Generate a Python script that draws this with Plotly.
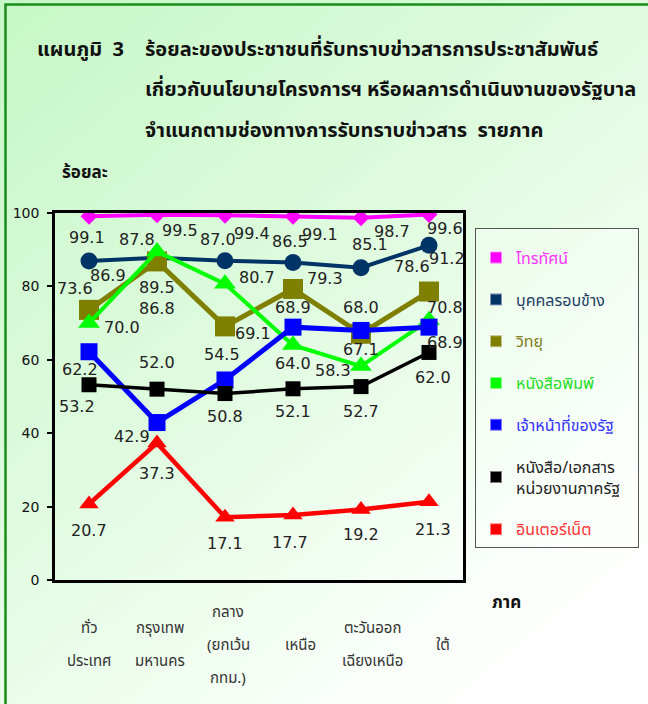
import base64
import plotly.graph_objects as go

# ---------------- data ----------------
regions = [["ทั่ว", "ประเทศ"], ["กรุงเทพ", "มหานคร"], ["กลาง", "(ยกเว้น", "กทม.)"],
           ["เหนือ"], ["ตะวันออก", "เฉียงเหนือ"], ["ใต้"]]
series_names = ["โทรทัศน์", "บุคคลรอบข้าง", "วิทยุ", "หนังสือพิมพ์", "เจ้าหน้าที่ของรัฐ",
                "หนังสือ/เอกสาร<br>หน่วยงานภาครัฐ", "อินเตอร์เน็ต"]
tv = [99.1, 99.5, 99.4, 99.1, 98.7, 99.6]
people = [86.9, 87.8, 87.0, 86.5, 85.1, 91.2]
radio = [73.6, 86.8, 69.1, 79.3, 67.1, 78.6]
newspaper = [70.0, 89.5, 80.7, 64.0, 58.3, 70.8]
officials = [62.2, 42.9, 54.5, 68.9, 68.0, 68.9]
documents = [53.2, 52.0, 50.8, 52.1, 52.7, 62.0]
internet = [20.7, 37.3, 17.1, 17.7, 19.2, 21.3]
y_ticks = [0, 20, 40, 60, 80, 100]

# ---------------- style ----------------
colors = ["#FF00FF", "#003366", "#808000", "#00FF00", "#0000FF", "#000000", "#FF0000"]
text_colors = ["#FF33FF", "#1F3F66", "#808020", "#22DD22", "#3333FF", "#222222", "#FF3333"]
symbols = ["diamond", "circle", "square", "triangle-up", "square", "square", "triangle-up"]
msizes = [13, 17, 20, 19, 17, 15, 17]
lwidths = [4, 4, 5, 4, 5, 3.5, 4.5]
# label offsets in pixels (dx right, dy down)
label_offsets = [
    [(-2, 21), (23, 16), (27, 18), (27, 18), (31, 14), (16, 14)],
    [(19, 14), (-20, -18), (-7, -21), (-3, -21), (9, -23), (18, 13)],
    [(-14, -21), (0, 47), (28, 7), (32, -10), (0, 16), (-17, -25)],
    [(33, 4), (0, 36), (32, -6), (0, 18), (-28, 4), (16, -13)],
    [(-9, 18), (-25, 14), (-3, -25), (0, -20), (0, -23), (16, 15)],
    [(-12, 22), (0, -27), (0, 23), (0, 23), (0, 25), (4, 25)],
    [(0, 26), (0, 30), (0, 26), (-3, 27), (0, 25), (4, 28)],
]
xlabel_shift = [0, 3, 3, 7, 11, 14]

W, H = 648, 704
L, R, T, B = 55, 185, 213, 124
PW, PH = W - L - R, H - T - B


def px(x):
    return (x - L) / PW


def py(y):
    return 1 - (y - T) / PH


THAI = "Tahoma, 'Noto Sans Thai', 'Noto Sans', 'DejaVu Sans', sans-serif"
NUM = "'DejaVu Sans', Verdana, sans-serif"

all_series = [tv, people, radio, newspaper, officials, documents, internet]
x_idx = list(range(len(regions)))

fig = go.Figure()
for s, vals in enumerate(all_series):
    fig.add_trace(go.Scatter(
        x=x_idx, y=vals, mode="lines+markers", showlegend=False,
        line=dict(color=colors[s], width=lwidths[s]),
        marker=dict(symbol=symbols[s], size=msizes[s], color=colors[s]),
        hoverinfo="skip"))

# legend-only traces (square swatches)
for s, name in enumerate(series_names):
    pad = "\u00a0" * 3 if s == 5 else ""
    fig.add_trace(go.Scatter(
        x=[None], y=[None], mode="markers", legendgroup=str(s),
        name=f"<span style='color:{text_colors[s]}'>{name}{pad}</span>",
        marker=dict(symbol="square", size=18, color=colors[s],
                    line=dict(color="rgba(255,255,255,0.5)", width=1))))

ann = []
# data labels
for s, vals in enumerate(all_series):
    for i, v in enumerate(vals):
        dx, dy = label_offsets[s][i]
        ann.append(dict(x=i, y=v, xref="x", yref="y", text=f"{v:.1f}", showarrow=False,
                        xshift=dx, yshift=-dy,
                        font=dict(family=NUM, size=16, color="#222222")))

# category labels
for i, lines in enumerate(regions):
    n = len(lines)
    for j, t in enumerate(lines):
        yc = 645 + (j - (n - 1) / 2) * 33
        ann.append(dict(x=i, y=py(yc), xref="x", yref="paper", text=t, showarrow=False,
                        xshift=xlabel_shift[i], yanchor="middle",
                        font=dict(family=THAI, size=15, color="#333333")))

# title
title_lines = ["ร้อยละของประชาชนที่รับทราบข่าวสารการประชาสัมพันธ์",
               "เกี่ยวกับนโยบายโครงการฯ หรือผลการดำเนินงานของรัฐบาล",
               "จำแนกตามช่องทางการรับทราบข่าวสาร  รายภาค"]
ann.append(dict(x=px(35), y=py(50), xref="paper", yref="paper", text="<b>แผนภูมิ  3</b>",
                showarrow=False, xanchor="left", yanchor="middle",
                font=dict(family=THAI, size=20, color="#111111")))
for k, t in enumerate(title_lines):
    ann.append(dict(x=px(143), y=py(50 + 40.5 * k), xref="paper", yref="paper",
                    text=f"<b>{t}</b>", showarrow=False, xanchor="left", yanchor="middle",
                    font=dict(family=THAI, size=20, color="#111111")))
ann.append(dict(x=px(60), y=py(173), xref="paper", yref="paper", text="<b>ร้อยละ</b>",
                showarrow=False, xanchor="left", yanchor="middle",
                font=dict(family=THAI, size=17, color="#111111")))
ann.append(dict(x=px(490), y=py(603), xref="paper", yref="paper", text="<b>ภาค</b>",
                showarrow=False, xanchor="left", yanchor="middle",
                font=dict(family=THAI, size=17, color="#111111")))

svg = ("<svg xmlns='http://www.w3.org/2000/svg' width='648' height='704'>"
       "<defs><linearGradient id='g' x1='0' y1='0' x2='0.75' y2='1'>"
       "<stop offset='0' stop-color='#c6f7c6'/><stop offset='0.5' stop-color='#e0fbe0'/>"
       "<stop offset='0.85' stop-color='#f8fff8'/><stop offset='1' stop-color='#ffffff'/>"
       "</linearGradient></defs><rect width='648' height='704' fill='url(#g)'/></svg>")
src = "data:image/svg+xml;base64," + base64.b64encode(svg.encode()).decode()

fig.update_layout(
    width=W, height=H,
    margin=dict(l=L, r=R, t=T, b=B, pad=0, autoexpand=False),
    paper_bgcolor="white", plot_bgcolor="rgba(0,0,0,0)",
    images=[dict(source=src, xref="paper", yref="paper", x=px(0), y=py(0),
                 sizex=W / PW, sizey=H / PH, sizing="stretch", layer="below",
                 xanchor="left", yanchor="top")],
    shapes=[dict(type="rect", xref="paper", yref="paper", x0=px(5.5), x1=px(700),
                 y0=py(4.5), y1=py(760), line=dict(color="#1a8c1a", width=2.5),
                 fillcolor="rgba(0,0,0,0)", layer="above")],
    annotations=ann,
    showlegend=True,
    legend=dict(x=px(475), y=py(228), xanchor="left", yanchor="top",
                bgcolor="rgba(255,255,255,0.25)", bordercolor="#555555", borderwidth=1,
                font=dict(family=THAI, size=16), traceorder="grouped",
                tracegroupgap=18, itemsizing="constant",
                title=dict(text=" ", font=dict(size=9))),
    xaxis=dict(range=[-0.5, len(regions) - 0.5], showticklabels=False, ticks="",
               showgrid=False, zeroline=False, showline=True, linecolor="black",
               linewidth=2.5, mirror=True, fixedrange=True),
    yaxis=dict(range=[0, 100], tickvals=y_ticks, ticks="outside", ticklen=5,
               tickwidth=1.5, tickcolor="black", showgrid=False, zeroline=False,
               showline=True, linecolor="black", linewidth=2.5, mirror=True,
               ticklabelstandoff=5,
               tickfont=dict(family=NUM, size=14, color="#111111"), fixedrange=True),
)

fig.write_html("out.html", config={"displayModeBar": False},
               post_script="document.body.style.margin='0';"
                           "document.body.style.overflow='hidden';")
